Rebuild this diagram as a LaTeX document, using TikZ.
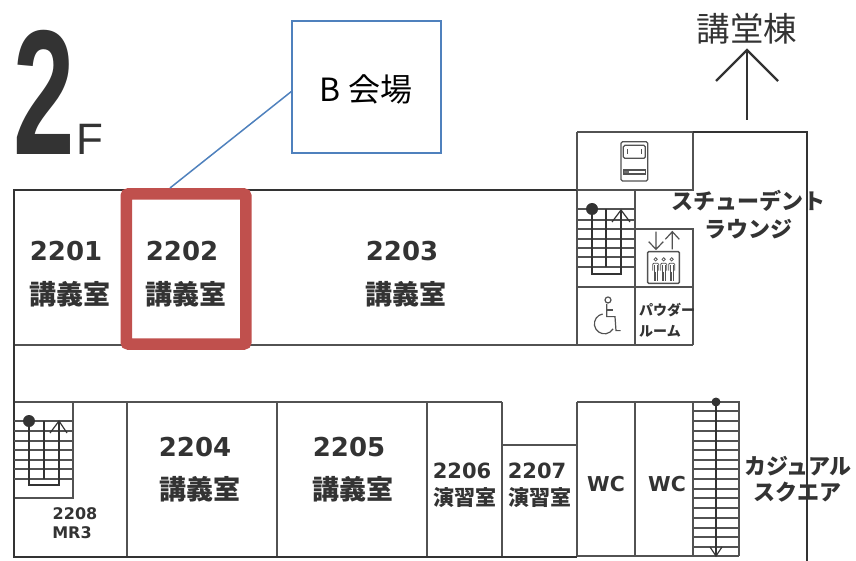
\documentclass[tikz,border=0pt]{standalone}
\usepackage{fontspec}
\setmainfont{Noto Sans CJK JP}
\newfontfamily\bigdigit{Liberation Sans}
\newfontfamily\numfont{DejaVu Sans}
\definecolor{wall}{HTML}{333333}
\definecolor{hallred}{HTML}{C0504D}
\definecolor{hallblue}{HTML}{4F81BD}
\tikzset{
  x=1pt,y=-1pt,
  wallouter/.style={draw=wall,line width=2.9pt},
  wallinner/.style={draw=wall!85,line width=2.1pt},
  tread/.style={draw=wall!85,line width=1.6pt},
  walkline/.style={draw=wall,line width=1.2pt},
  icon/.style={draw=wall!85,line width=1.2pt},
  lbl/.style={inner sep=0pt,text=wall,font=\fontsize{#1}{#1}\selectfont\bfseries},
  lbl/.default=27,
  numlbl/.style={inner sep=0pt,text=wall,font=\numfont\fontsize{#1}{#1}\selectfont\bfseries},
  numlbl/.default=26,
  thinlbl/.style={inner sep=0pt,text=wall,font=\fontsize{#1}{#1}\selectfont},
}
\begin{document}
\begin{tikzpicture}
\useasboundingbox (0,0) rectangle (856,561);
% inner walls
\draw[wallinner] (14,345) -- (693,345);
\draw[wallinner] (14,402) -- (502,402);
\draw[wallinner] (127,402) -- (127,557);
\draw[wallinner] (277,402) -- (277,557);
\draw[wallinner] (427,402) -- (427,557);
\draw[wallinner] (502,402) -- (502,557);
\draw[wallinner] (502,445) -- (577,445);
\draw[wallinner] (577,402) -- (739,402) -- (739,556);
\draw[wallinner] (577,402) -- (577,557);
\draw[wallinner] (635,402) -- (635,556);
\draw[wallinner] (693,402) -- (693,556);
\draw[wallinner] (577,556) -- (739,556);
\draw[wallinner] (693,132) -- (693,190) -- (577,190);
\draw[wallinner] (635,190) -- (635,345);
\draw[wallinner] (635,229) -- (693,229) -- (693,345);
\draw[wallinner] (577,287) -- (693,287);
\draw[wallinner] (577,190) -- (577,345);
\draw[wallinner] (73,402) -- (73,498) -- (14,498);
% outer walls
\draw[wallouter] (577,190) -- (14,190) -- (14,557) -- (577,557);
\draw[wallinner,line width=2.5pt] (577,132) -- (577,190);
\draw[wallinner,line width=2.5pt] (577,132) -- (693,132);
\draw[wallouter] (693,132) -- (807,132) -- (807,561);
% upper stair
\foreach \y in {209,220,229,239,248,257,267} \draw[tread] (577,\y) -- (635,\y);
\draw[walkline] (606,209) -- (606,267);
\draw[walkline] (592,209) -- (592,274) -- (621,274) -- (621,210);
\draw[walkline] (612,222) -- (621,210) -- (630,222);
\fill[wall] (592,209) circle[radius=6];
% lower-left stair
\foreach \y in {421,431,441,450,460,469,479} \draw[tread] (14,\y) -- (73,\y);
\draw[walkline] (44,421) -- (44,479);
\draw[walkline] (29,421) -- (29,485) -- (59,485) -- (59,421);
\draw[walkline] (50,433) -- (59,421) -- (67,433);
\fill[wall] (29,421) circle[radius=6];
% lower-right stair
\foreach \y in {411,421,431,441,450,460,469,479,489,498,508,518,528,537,547} \draw[tread] (693,\y) -- (739,\y);
\draw[walkline] (716,402) -- (716,556);
\draw[walkline] (710,547) -- (716,556) -- (722,547);
\fill[wall] (716,402) circle[radius=4.5];
% icons, drawn in 3x zoom coordinates
\begin{scope}[shift={(570,120)},x=0.3333pt,y=-0.3333pt]
  % machine
  \draw[icon,rounded corners=1.5pt] (153,65) rectangle (233,183);
  \draw[icon,rounded corners=1.5pt] (160,76) rectangle (226,115);
  \draw[icon] (172,88) -- (172,102) (215,88) -- (215,102);
  \draw[icon] (160,150) rectangle (226,162);
  \fill[wall!70] (162,152) rectangle (178,160);
  % lift arrows
  \draw[icon] (258,335) -- (258,388) (236,365) -- (258,388) -- (280,365);
  \draw[icon] (307,388) -- (307,335) (286,358) -- (307,335) -- (328,358);
  % lift
  \draw[icon,line width=1.5pt,rounded corners=1pt] (233,395) rectangle (328,490);
  \foreach \x in {257,281,305}{
    \draw[icon,line width=.8pt] (\x,418) circle[radius=5];
    \draw[icon,line width=.8pt,rounded corners=1pt] (\x-9,452) -- (\x-9,430) -- (\x+9,430) -- (\x+9,452);
    \draw[icon,line width=.8pt] (\x-4,436) -- (\x-4,482) (\x+4,436) -- (\x+4,482) (\x,455) -- (\x,482);
  }
  % wheelchair
  \draw[icon] (114,540) circle[radius=9];
  \draw[icon] (110,552) -- (110,590) -- (135,590) -- (138,632) -- (152,632);
  \draw[icon] (110,570) -- (130,570);
  \draw[icon] (98,582) arc[start angle=-100,end angle=-330,radius=30];
\end{scope}
% room highlight and callout
\node[draw=hallred,line width=11.5pt,rounded corners=2pt,minimum width=119.5pt,minimum height=150pt,inner sep=0pt] (hl) at (186,269) {};
\node[draw=hallblue,line width=1.4pt,minimum width=149pt,minimum height=132pt,inner sep=0pt] (hall) at (366.5,87) {};
\node[inner sep=0pt,font=\fontsize{32}{32}\selectfont,text=black] (hallt) at (366,89) {B 会場};
\coordinate (leadA) at (292,91);
\coordinate (leadB) at (170,188);
\draw[hallblue,line width=1.5pt] (leadA) -- (leadB);
% floor mark
\node[inner sep=0pt,text=wall] (two) at (44.5,92.5) {\scalebox{0.62}[1]{\bigdigit\fontsize{178}{178}\selectfont\bfseries 2}};
\node[inner sep=0pt,text=wall] (fl) at (90,139) {\bigdigit\fontsize{44}{44}\selectfont F};
% destination arrow
\node[thinlbl=33.5] (kd) at (747,29) {講堂棟};
\coordinate (arTip) at (747,50);
\coordinate (arEnd) at (747,120);
\draw[draw=wall,line width=2.4pt] (arEnd) -- (arTip);
\draw[draw=wall,line width=2.4pt] (716,81) -- (arTip) -- (778,81);
% labels
\node[numlbl] (n2201) at (66,251) {2201};
\node[lbl] (k2201) at (70,294) {講義室};
\node[numlbl] (n2202) at (182,251) {2202};
\node[lbl] (k2202) at (186,294) {講義室};
\node[numlbl] (n2203) at (402,251) {2203};
\node[lbl] (k2203) at (406,294) {講義室};
\node[numlbl] (n2204) at (195,447) {2204};
\node[lbl] (k2204) at (200,489) {講義室};
\node[numlbl] (n2205) at (349,447) {2205};
\node[lbl] (k2205) at (353,489) {講義室};
\node[numlbl=21] (n2206) at (462,471) {2206};
\node[lbl=21] (k2206) at (465,498) {演習室};
\node[numlbl=21] (n2207) at (537,471) {2207};
\node[lbl=21] (k2207) at (540,498) {演習室};
\node[numlbl=20.5] (wc1) at (606,484) {WC};
\node[numlbl=20.5] (wc2) at (667,484) {WC};
\node[numlbl=16] (n2208) at (75,514) {2208};
\node[numlbl=16] (m2208) at (72,533) {MR3};
\node[lbl=22] (sl1) at (748,201) {スチューデント};
\node[lbl=22] (sl2) at (748,229) {ラウンジ};
\node[lbl=14] (pr1) at (667,310) {パウダー};
\node[lbl=14] (pr2) at (660,331) {ルーム};
\node[lbl=22] (cs1) at (798,466) {カジュアル};
\node[lbl=22] (cs2) at (797,492) {スクエア};
\end{tikzpicture}
\end{document}
